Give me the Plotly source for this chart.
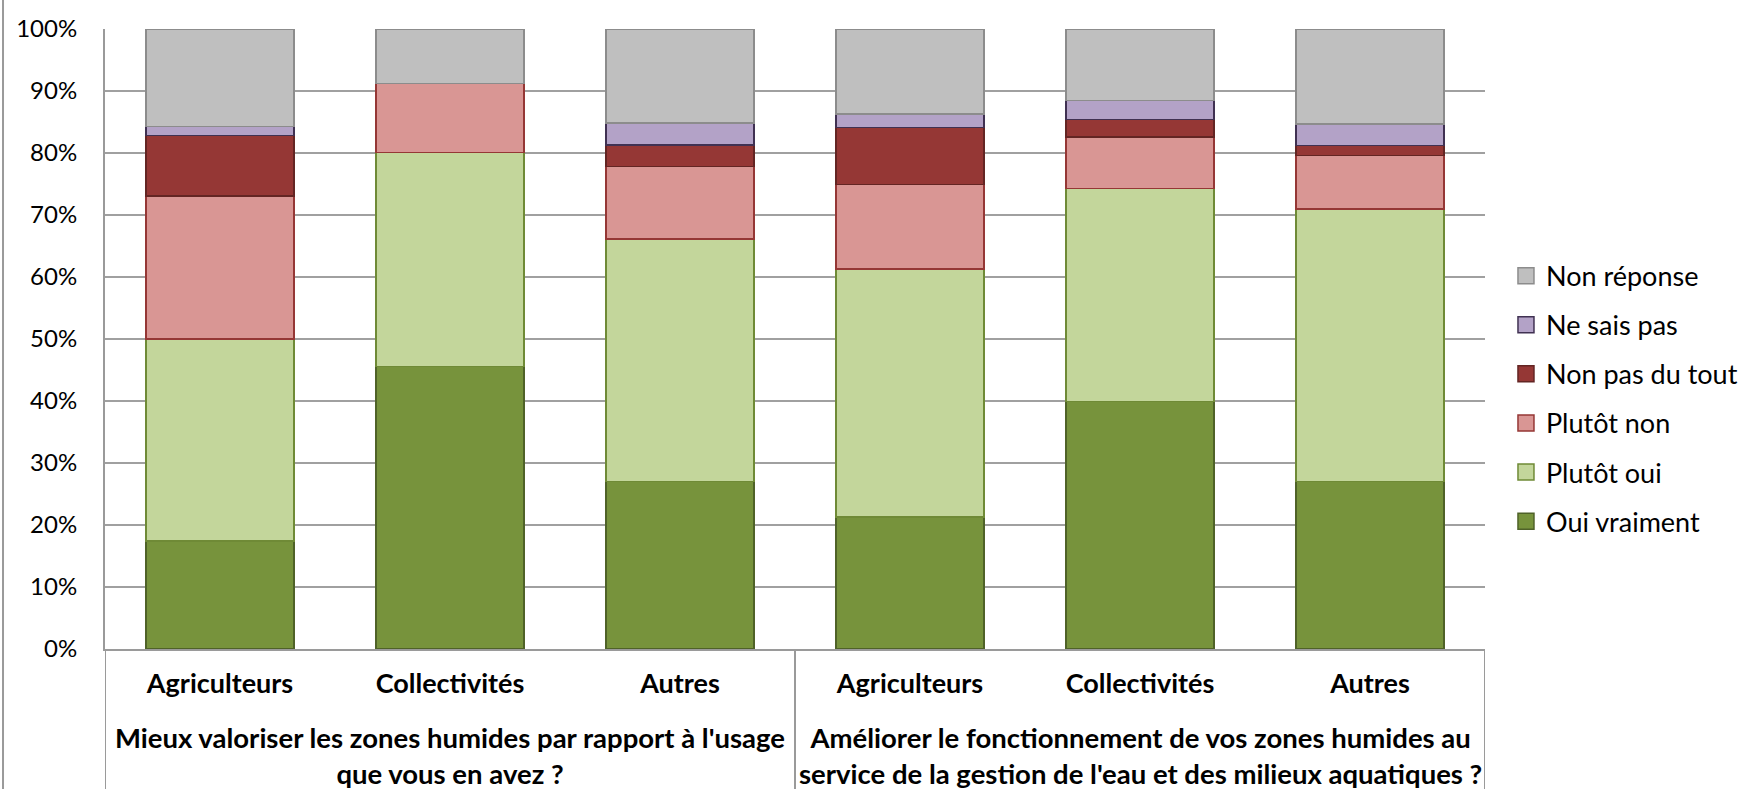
import plotly.graph_objects as go

# ---- data (percent of respondents) ----
groups = [
    "Mieux valoriser les zones humides par rapport à l'usage<br>que vous en avez ?",
    "Améliorer le fonctionnement de vos zones humides au<br>service de la gestion de l'eau et des milieux aquatiques ?",
]
categories = ["Agriculteurs", "Collectivités", "Autres", "Agriculteurs", "Collectivités", "Autres"]
group_of_category = [0, 0, 0, 1, 1, 1]

oui_vraiment    = [17.4, 45.6, 27.0, 21.3, 39.9, 27.0]
plutot_oui      = [32.6, 34.5, 39.1, 40.0, 34.4, 44.0]
plutot_non      = [23.1, 11.1, 11.7, 13.6, 8.3, 8.6]
non_pas_du_tout = [9.7, 0.0, 3.5, 9.2, 2.8, 1.6]
ne_sais_pas     = [1.5, 0.0, 3.5, 2.2, 3.1, 3.5]
non_reponse     = [15.7, 8.8, 15.2, 13.7, 11.5, 15.3]

series_names = ["Oui vraiment", "Plutôt oui", "Plutôt non", "Non pas du tout", "Ne sais pas", "Non réponse"]
series_values = [oui_vraiment, plutot_oui, plutot_non, non_pas_du_tout, ne_sais_pas, non_reponse]
fill_colors = ["#77933C", "#C3D69B", "#D99694", "#953735", "#B3A2C7", "#BFBFBF"]
line_colors = ["#4F6228", "#6F8A36", "#953735", "#632523", "#403152", "#8C8C8C"]

y_ticks = list(range(0, 101, 10))
y_ticktext = [f"{v}%" for v in y_ticks]

FONT = "Lato"
positions = list(range(len(categories)))

fig = go.Figure()
for name, vals, fc, lc in zip(series_names, series_values, fill_colors, line_colors):
    fig.add_trace(go.Bar(
        x=positions, y=vals, name=name, showlegend=False,
        marker=dict(color=fc, line=dict(color=lc, width=1.5)),
        width=0.643,
    ))
# legend entries (square swatches), top entry = top of the stack
for name, fc, lc in reversed(list(zip(series_names, fill_colors, line_colors))):
    fig.add_trace(go.Scatter(
        x=[None], y=[None], mode="markers", name=name, legendgroup=name,
        marker=dict(symbol="square", size=16, color=fc, line=dict(color=lc, width=1.5)),
        showlegend=True,
    ))

# group labels under the category labels
n_per_group = [group_of_category.count(g) for g in range(len(groups))]
start = 0
for g, label in enumerate(groups):
    center = start + (n_per_group[g] - 1) / 2
    fig.add_annotation(
        x=center, xref="x", y=-0.113, yref="paper", yanchor="top",
        text=f"<b>{label}</b>", showarrow=False, align="center",
        font=dict(family=FONT, size=27.5, color="#000000"),
    )
    start += n_per_group[g]

# vertical dividers in the label area
div_x = [-0.5] + [sum(n_per_group[:k + 1]) - 0.5 for k in range(len(groups))]
for xv in div_x:
    fig.add_shape(type="line", xref="x", yref="paper", x0=xv, x1=xv, y0=0, y1=-0.4,
                  line=dict(color="#9A9A9A", width=2))
# outer chart border on the left
fig.add_shape(type="line", xref="paper", yref="paper", x0=-0.0739, x1=-0.0739, y0=-0.4, y1=1.2,
              line=dict(color="#9A9A9A", width=2))

fig.update_layout(
    width=1744, height=789,
    barmode="stack",
    paper_bgcolor="white", plot_bgcolor="white",
    margin=dict(l=105, r=259, t=29, b=140, autoexpand=False),
    font=dict(family=FONT, size=24, color="#000000"),
    showlegend=True,
    legend=dict(
        traceorder="grouped", x=1.0152, xanchor="left", y=0.641, yanchor="top",
        font=dict(family=FONT, size=27, color="#000000"),
        tracegroupgap=11, bgcolor="rgba(0,0,0,0)", itemsizing="trace",
    ),
    xaxis=dict(
        range=[-0.5, len(categories) - 0.5],
        tickvals=positions, ticktext=[f"<b>{c}</b>" for c in categories],
        tickfont=dict(family=FONT, size=27, color="#000000"),
        showgrid=False, zeroline=False, ticks="", ticklabelstandoff=10,
        showline=True, linecolor="#9A9A9A", linewidth=2, automargin=False,
    ),
    yaxis=dict(
        range=[0, 100], tickvals=y_ticks, ticktext=y_ticktext,
        tickfont=dict(family=FONT, size=24, color="#000000"),
        showgrid=True, gridcolor="#A0A0A0", gridwidth=2,
        zeroline=False, ticks="", ticklabelstandoff=21,
        showline=True, linecolor="#9A9A9A", linewidth=2, automargin=False,
    ),
)

fig.write_html(
    "out.html",
    config={"displayModeBar": False},
    post_script="document.body.style.margin='0';document.body.style.overflow='hidden';",
)
